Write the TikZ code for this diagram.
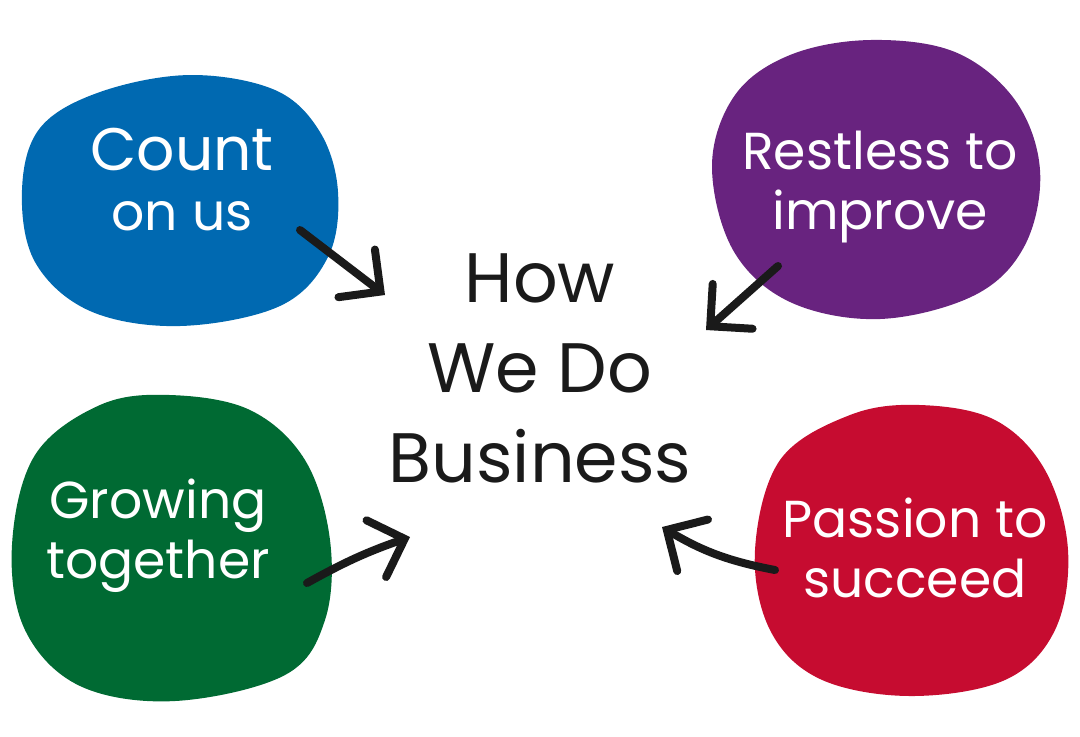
\documentclass[tikz,border=0pt]{standalone}
\usepackage{fontspec}
\setmainfont{Poppins}
\usetikzlibrary{arrows.meta}
\definecolor{cblue}{HTML}{0069B1}
\definecolor{cpurple}{HTML}{68237F}
\definecolor{cgreen}{HTML}{006A33}
\definecolor{cred}{HTML}{C60C30}
\definecolor{ink}{HTML}{1A1A1A}
\tikzset{
  lbl/.style={text=white, align=center, font=\fontsize{26}{30}\selectfont, inner sep=0pt},
  ctr/.style={text=ink, align=center, font=\fontsize{35}{45}\selectfont, inner sep=0pt},
  conn/.style={draw=ink, line width=4pt, line cap=round, line join=round,
    -{Straight Barb[length=15pt, width=30pt, line width=4pt, line cap=round]}}
}
\begin{document}
\begin{tikzpicture}[x=0.5pt, y=-0.5pt]
\useasboundingbox (0,0) rectangle (1080,736);
% blobs
\fill[cblue] plot[smooth cycle, tension=0.6] coordinates {(100,92) (190,75) (275,90) (320,132) (338,192) (328,257) (280,306) (180,326) (90,311) (35,262) (22,190) (40,128)};
\fill[cpurple] plot[smooth cycle, tension=0.6] coordinates {(790,55) (870,40) (955,52) (1015,100) (1040,170) (1025,245) (975,295) (880,319) (790,302) (733,250) (712,165) (735,95)};
\fill[cgreen] plot[smooth cycle, tension=0.6] coordinates {(100,405) (170,395) (250,410) (305,460) (330,540) (325,620) (285,675) (175,701) (80,686) (25,630) (12,545) (35,455)};
\fill[cred] plot[smooth cycle, tension=0.6] coordinates {(850,415) (920,405) (995,420) (1045,470) (1068,550) (1055,630) (1005,680) (910,696) (820,679) (770,630) (755,550) (780,460)};
% labels
\node[lbl] (count) at (182,180) {\fontsize{30}{36}\selectfont Count\\on us};
\node[lbl] (restless) at (880,187) {Restless to\\improve};
\node[lbl] (growing) at (158,536) {Growing\\together};
\node[lbl] (passion) at (915,548) {Passion to\\succeed};
\node[ctr] (how) at (540,368) {How\\We Do\\Business};
% connector ends
\coordinate (a1s) at (300,230); \coordinate (a1e) at (385,295);
\coordinate (a2s) at (778,266); \coordinate (a2e) at (706,330);
\coordinate (a3s) at (307,583); \coordinate (a3e) at (410,537);
\coordinate (a4s) at (775,570); \coordinate (a4e) at (662,527);
\draw[conn] (a1s) -- (a1e);
\draw[conn] (a2s) -- (a2e);
\draw[conn] (a3s) to[bend left=5] (a3e);
\draw[conn] (a4s) to[bend left=10] (a4e);
\end{tikzpicture}
\end{document}
